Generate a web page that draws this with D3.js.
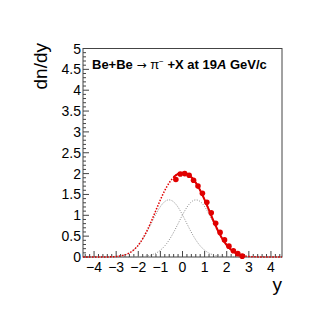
<!DOCTYPE html>
<html>
<head>
<meta charset="utf-8">
<script src="https://cdn.jsdelivr.net/npm/d3@7"></script>
<style>
  body { margin: 0; background: #fff; }
  text { font-family: "Liberation Sans", Arial, sans-serif; }
</style>
</head>
<body>
<div id="plot"></div>
<script>
// ############ DATA ###############

const rapidity = [-0.3, -0.1, 0.1, 0.3, 0.5, 0.7, 0.9, 1.1, 1.3, 1.5, 1.7, 1.9, 2.1, 2.3, 2.5, 2.7];
const dndy     = [1.86, 1.99, 2.00, 1.96, 1.84, 1.70, 1.53, 1.31, 1.06, 0.81, 0.59, 0.41, 0.26, 0.15, 0.08, 0.02];

// fit: two gaussians placed symmetric around y = 0
const fitAmp = 1.37;
const fitMean = 0.61;
const fitSigma = 0.78;
const fitRange = [-0.4, 2.8];   // where the fit is drawn solid

const xTicks = [-4, -3, -2, -1, 0, 1, 2, 3, 4];
const yTicks = [0, 0.5, 1, 1.5, 2, 2.5, 3, 3.5, 4, 4.5, 5];

// ############ SETUP ###############

const w = 332, h = 322;
const margin = {left: 83, right: 50, top: 48.5, bottom: 65};
const innerWidth = w - margin.left - margin.right;
const innerHeight = h - margin.top - margin.bottom;

const xScale = d3.scaleLinear().domain([-4.5, 4.5]).range([0, innerWidth]);
const yScale = d3.scaleLinear().domain([0, 5]).range([innerHeight, 0]);

const gaus = (x, m) => fitAmp * Math.exp(-((x - m) * (x - m)) / (2 * fitSigma * fitSigma));
const gLeft = x => gaus(x, -fitMean);
const gRight = x => gaus(x, fitMean);
const gSum = x => gLeft(x) + gRight(x);

const svg = d3.select("div#plot")
  .append("svg")
  .attr("width", w)
  .attr("height", h);

const plot = svg.append("g")
  .attr("id", "plotarea")
  .attr("transform", `translate(${margin.left}, ${margin.top})`);

// frame
plot.append("rect")
  .attr("width", innerWidth)
  .attr("height", innerHeight)
  .attr("fill", "none")
  .attr("stroke", "#444")
  .attr("stroke-width", 1);

// x ticks (major every 1, minor every 0.2, drawn inward)
const xMinor = d3.range(-22, 23).map(i => i * 0.2).filter(v => Math.abs(v - Math.round(v)) > 1e-6);
plot.append("g").attr("id", "xticks")
  .selectAll("line")
  .data(xTicks.map(v => ({v, len: 6})).concat(xMinor.map(v => ({v, len: 3}))))
  .enter()
  .append("line")
    .attr("x1", d => xScale(d.v))
    .attr("x2", d => xScale(d.v))
    .attr("y1", innerHeight)
    .attr("y2", d => innerHeight - d.len)
    .attr("stroke", "#444");

plot.append("g").attr("id", "xlabels")
  .selectAll("text")
  .data(xTicks)
  .enter()
  .append("text")
    .attr("x", d => xScale(d))
    .attr("y", innerHeight + 14.5)
    .attr("text-anchor", "middle")
    .attr("font-size", 14)
    .text(d => (d < 0 ? "\u2212" + Math.abs(d) : d));

// y ticks (major every 0.5, minor every 0.1)
const yMinor = d3.range(0, 51).map(i => i * 0.1).filter(v => Math.abs(v * 2 - Math.round(v * 2)) > 1e-6);
plot.append("g").attr("id", "yticks")
  .selectAll("line")
  .data(yTicks.map(v => ({v, len: 6})).concat(yMinor.map(v => ({v, len: 3}))))
  .enter()
  .append("line")
    .attr("x1", 0)
    .attr("x2", d => d.len)
    .attr("y1", d => yScale(d.v))
    .attr("y2", d => yScale(d.v))
    .attr("stroke", "#444");

plot.append("g").attr("id", "ylabels")
  .selectAll("text")
  .data(yTicks)
  .enter()
  .append("text")
    .attr("x", -2)
    .attr("y", d => yScale(d) + 5)
    .attr("text-anchor", "end")
    .attr("font-size", 14)
    .text(d => d);

// axis titles
svg.append("text")
  .attr("transform", "translate(47, 43) rotate(-90)")
  .attr("text-anchor", "end")
  .attr("font-size", 19)
  .text("dn/dy");

svg.append("text")
  .attr("x", 282)
  .attr("y", 291)
  .attr("text-anchor", "end")
  .attr("font-size", 19)
  .text("y");

// ############ CURVES ###############

const line = d3.line()
  .x(d => xScale(d[0]))
  .y(d => yScale(d[1]));

const sample = (f, a, b) => d3.range(0, 301).map(i => {
  const x = a + (b - a) * i / 300;
  return [x, f(x)];
});

plot.append("path")
  .datum(sample(gLeft, -4.5, 4.5))
  .attr("d", line)
  .attr("fill", "none")
  .attr("stroke", "#888")
  .attr("stroke-width", 1)
  .attr("stroke-dasharray", "1,1.5");

plot.append("path")
  .datum(sample(gRight, -4.5, 4.5))
  .attr("d", line)
  .attr("fill", "none")
  .attr("stroke", "#888")
  .attr("stroke-width", 1)
  .attr("stroke-dasharray", "1,1.5");

plot.append("path")
  .datum(sample(gSum, -4.5, 4.5))
  .attr("d", line)
  .attr("fill", "none")
  .attr("stroke", "#e00000")
  .attr("stroke-width", 1.5)
  .attr("stroke-dasharray", "1.5,1.5");

plot.append("path")
  .datum(sample(gSum, fitRange[0], fitRange[1]))
  .attr("d", line)
  .attr("fill", "none")
  .attr("stroke", "#e00000")
  .attr("stroke-width", 2);

// data points
plot.append("g").attr("id", "points")
  .selectAll("circle")
  .data(rapidity.map((x, i) => ({x, y: dndy[i]})))
  .enter()
  .append("circle")
    .attr("cx", d => xScale(d.x))
    .attr("cy", d => yScale(d.y))
    .attr("r", 2.8)
    .attr("fill", "#e00000");

// ############ TITLE ###############

const title = svg.append("text")
  .attr("x", 92)
  .attr("y", 69)
  .attr("font-size", 13)
  .attr("font-weight", "bold");

title.append("tspan").text("Be+Be ");
title.append("tspan")
  .attr("font-weight", "normal")
  .attr("font-family", "DejaVu Sans")
  .attr("font-size", 12)
  .text("\u2192");
title.append("tspan").attr("font-weight", "normal").text(" \u03c0");
title.append("tspan").attr("font-size", 8).attr("dy", -5).attr("font-weight", "normal").text("\u2212");
title.append("tspan").attr("dy", 5).text(" +X at 19");
title.append("tspan").attr("font-style", "italic").text("A");
title.append("tspan").text(" GeV/c");
</script>
</body>
</html>
